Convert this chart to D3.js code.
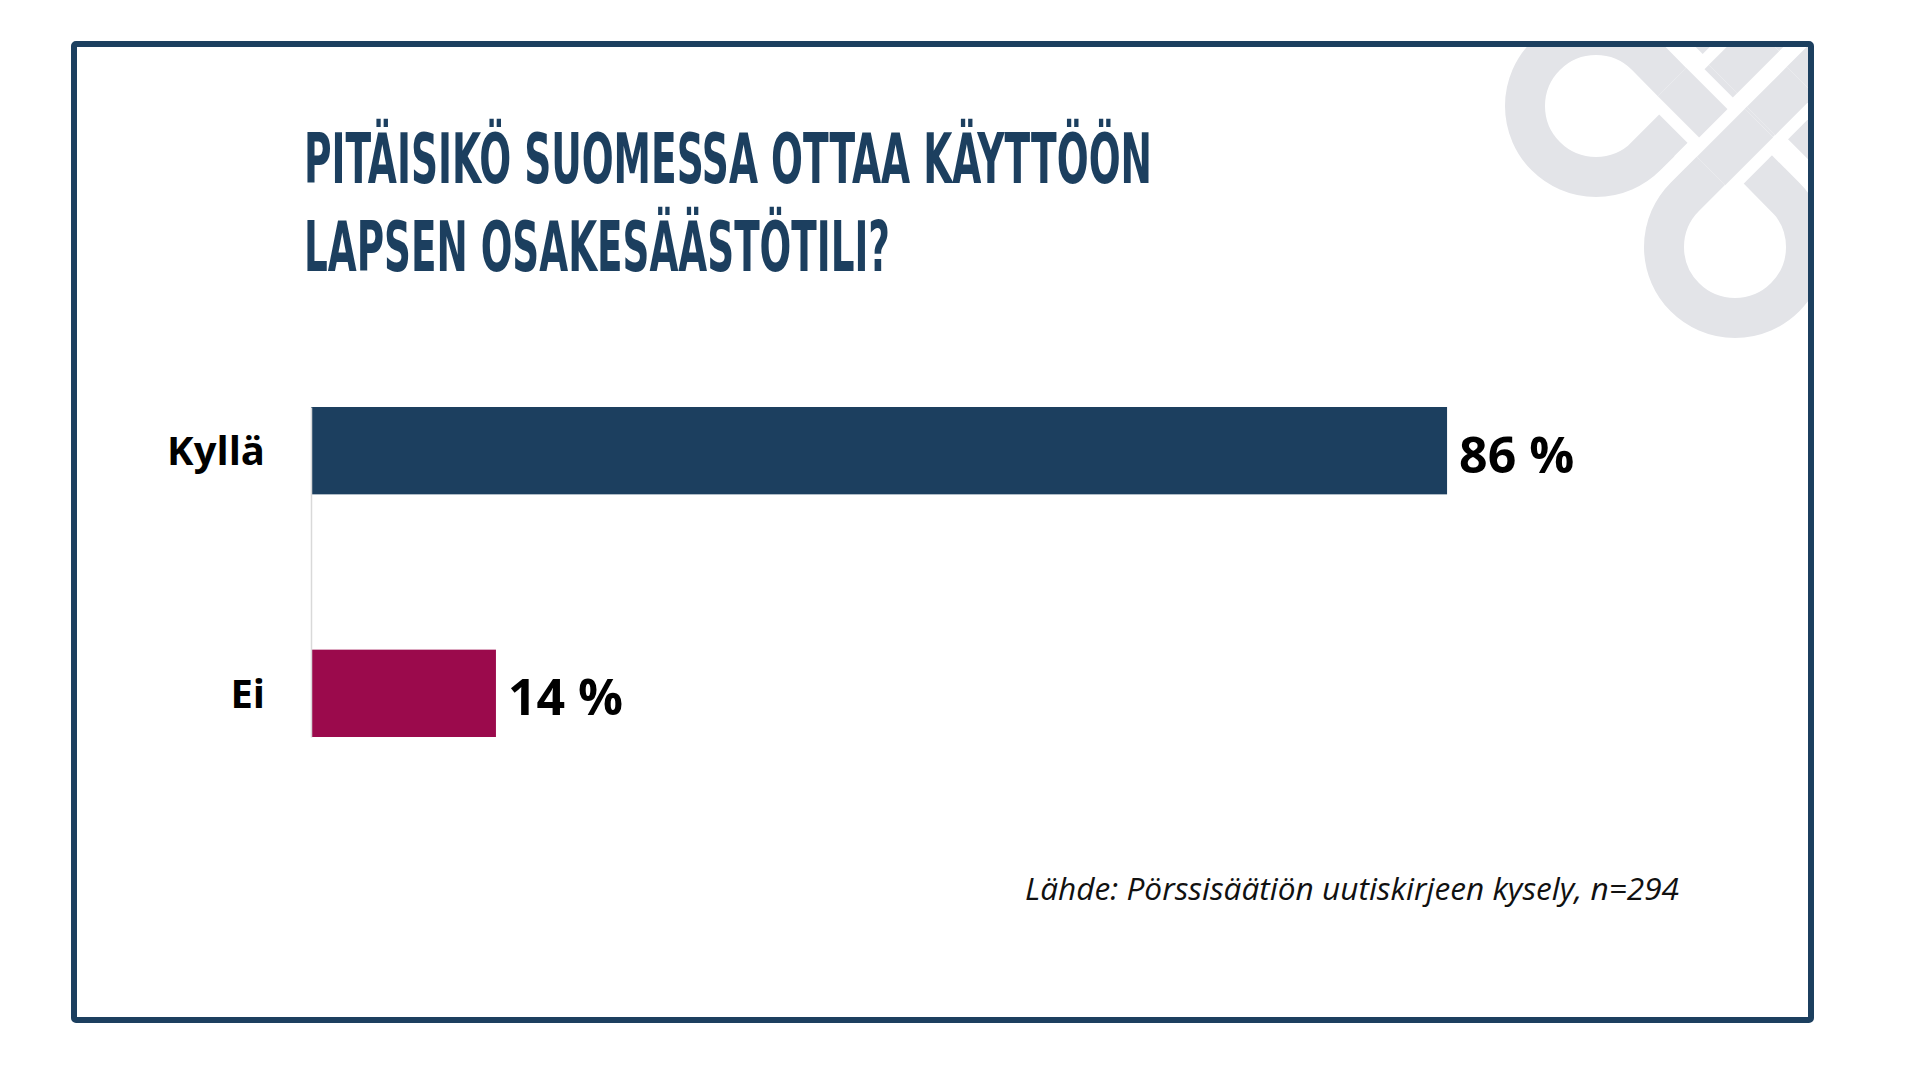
<!DOCTYPE html>
<html>
<head>
<meta charset="utf-8">
<script src="https://cdn.jsdelivr.net/npm/d3@7"></script>
<style>
  body { margin: 0; background: #fff; }
  svg { display: block; }
</style>
</head>
<body>
<div class="chart"></div>
<script>
// Survey result: should Finland introduce a children's share savings account?

// Data
var categories = ["Kyllä", "Ei"];
var values = [86, 14];
var valueLabels = ["86 %", "14 %"];
var colors = ["#1c3f5f", "#9b0a4c"];
var titleLines = ["PITÄISIKÖ SUOMESSA OTTAA KÄYTTÖÖN", "LAPSEN OSAKESÄÄSTÖTILI?"];
var sourceText = "Lähde: Pörssisäätiön uutiskirjeen kysely, n=294";

var width = 1912, height = 1079;
var navy = "#1c3f5f";

var svg = d3.select(".chart").append("svg")
    .attr("width", width)
    .attr("height", height);

svg.append("rect")
    .attr("width", width)
    .attr("height", height)
    .attr("fill", "#fff");

// clip for the watermark, inside the frame
svg.append("clipPath").attr("id", "inner")
  .append("rect")
    .attr("x", 77).attr("y", 47)
    .attr("width", 1731).attr("height", 970);

// Watermark logo (light knot shapes in the corner)
var logo = svg.append("g").attr("clip-path", "url(#inner)")
    .attr("fill", "none");
var grey = "#e3e4e8", bw = 40;

// top diagonal band
logo.append("line")
    .attr("x1", 1660).attr("y1", -17).attr("x2", 1900).attr("y2", 223)
    .attr("stroke", grey).attr("stroke-width", bw);

// main knot: loop A, band, loop B and tails
var p = d3.path();
p.moveTo(1846, -44);
p.lineTo(1646, 156);
p.arc(1596, 106, 71, Math.PI / 4, 7 * Math.PI / 4, false);
p.lineTo(1785, 197);
p.arc(1735, 247, 71, -Math.PI / 4, 5 * Math.PI / 4, false);
p.lineTo(1885, -3);
logo.append("path")
    .attr("d", p.toString())
    .attr("stroke", grey).attr("stroke-width", bw);

// crossings: piece on top gets a white gap around it
var overs = [
  [1672, 82, 1720, 130],
  [1711, 171, 1759, 123],
  [1723, 79, 1765, 37],
  [1761, 121, 1801, 81]
];
overs.forEach(function(s) {
  logo.append("line")
      .attr("x1", s[0]).attr("y1", s[1]).attr("x2", s[2]).attr("y2", s[3])
      .attr("stroke", "#fff").attr("stroke-width", bw + 24);
  logo.append("line")
      .attr("x1", s[0]).attr("y1", s[1]).attr("x2", s[2]).attr("y2", s[3])
      .attr("stroke", grey).attr("stroke-width", bw);
});

// Frame
svg.append("rect")
    .attr("x", 74).attr("y", 44)
    .attr("width", 1737).attr("height", 976)
    .attr("rx", 2)
    .attr("fill", "none")
    .attr("stroke", navy)
    .attr("stroke-width", 6);

// Title
var titleWidths = [848, 586];
svg.selectAll(".title-text")
    .data(titleLines)
    .enter().append("text")
    .attr("class", "title-text")
    .text(function(d) { return d; })
    .attr("x", 304)
    .attr("y", function(d, i) { return 183 + i * 88; })
    .attr("textLength", function(d, i) { return titleWidths[i]; })
    .attr("lengthAdjust", "spacingAndGlyphs")
    .style("font-family", "'Liberation Sans Narrow', 'DejaVu Sans Condensed', sans-serif")
    .style("font-weight", "bold")
    .style("font-size", "70px")
    .style("fill", navy);

// Scales
var x = d3.scaleLinear().domain([0, 100]).range([311, 1632]);
var y = d3.scaleBand().domain(categories).range([407, 737])
    .paddingInner(0.64).paddingOuter(0);

// Bars
svg.selectAll(".bar")
    .data(values)
    .enter().append("rect")
    .attr("class", "bar")
    .attr("x", x(0))
    .attr("y", function(d, i) { return y(categories[i]); })
    .attr("width", function(d) { return x(d) - x(0); })
    .attr("height", y.bandwidth())
    .style("fill", function(d, i) { return colors[i]; });

// Category axis
var axis = svg.append("g")
    .attr("transform", "translate(" + x(0) + ",0)")
    .call(d3.axisLeft(y).tickSize(0).tickSizeOuter(0).tickPadding(46));
axis.select(".domain")
    .attr("stroke", "#d9d9d9")
    .attr("stroke-width", 1.5);
axis.selectAll("text")
    .attr("dy", "0.36em")
    .style("font-family", "'Open Sans', sans-serif")
    .style("font-weight", "bold")
    .style("font-size", "40px")
    .style("fill", "#000");

// Value labels
svg.selectAll(".bar-text")
    .data(values)
    .enter().append("text")
    .attr("class", "bar-text")
    .text(function(d, i) { return valueLabels[i]; })
    .attr("x", function(d) { return x(d) + 12; })
    .attr("y", function(d, i) { return y(categories[i]) + y.bandwidth() / 2 + 22; })
    .style("font-family", "'Open Sans', sans-serif")
    .style("font-weight", "bold")
    .style("font-size", "50px")
    .style("fill", "#000");

// Source
svg.append("text")
    .text(sourceText)
    .attr("x", 1679)
    .attr("y", 900)
    .attr("text-anchor", "end")
    .attr("textLength", 654)
    .attr("lengthAdjust", "spacingAndGlyphs")
    .style("font-family", "'Open Sans', sans-serif")
    .style("font-style", "italic")
    .style("font-size", "31px")
    .style("fill", "#111");
</script>
</body>
</html>
